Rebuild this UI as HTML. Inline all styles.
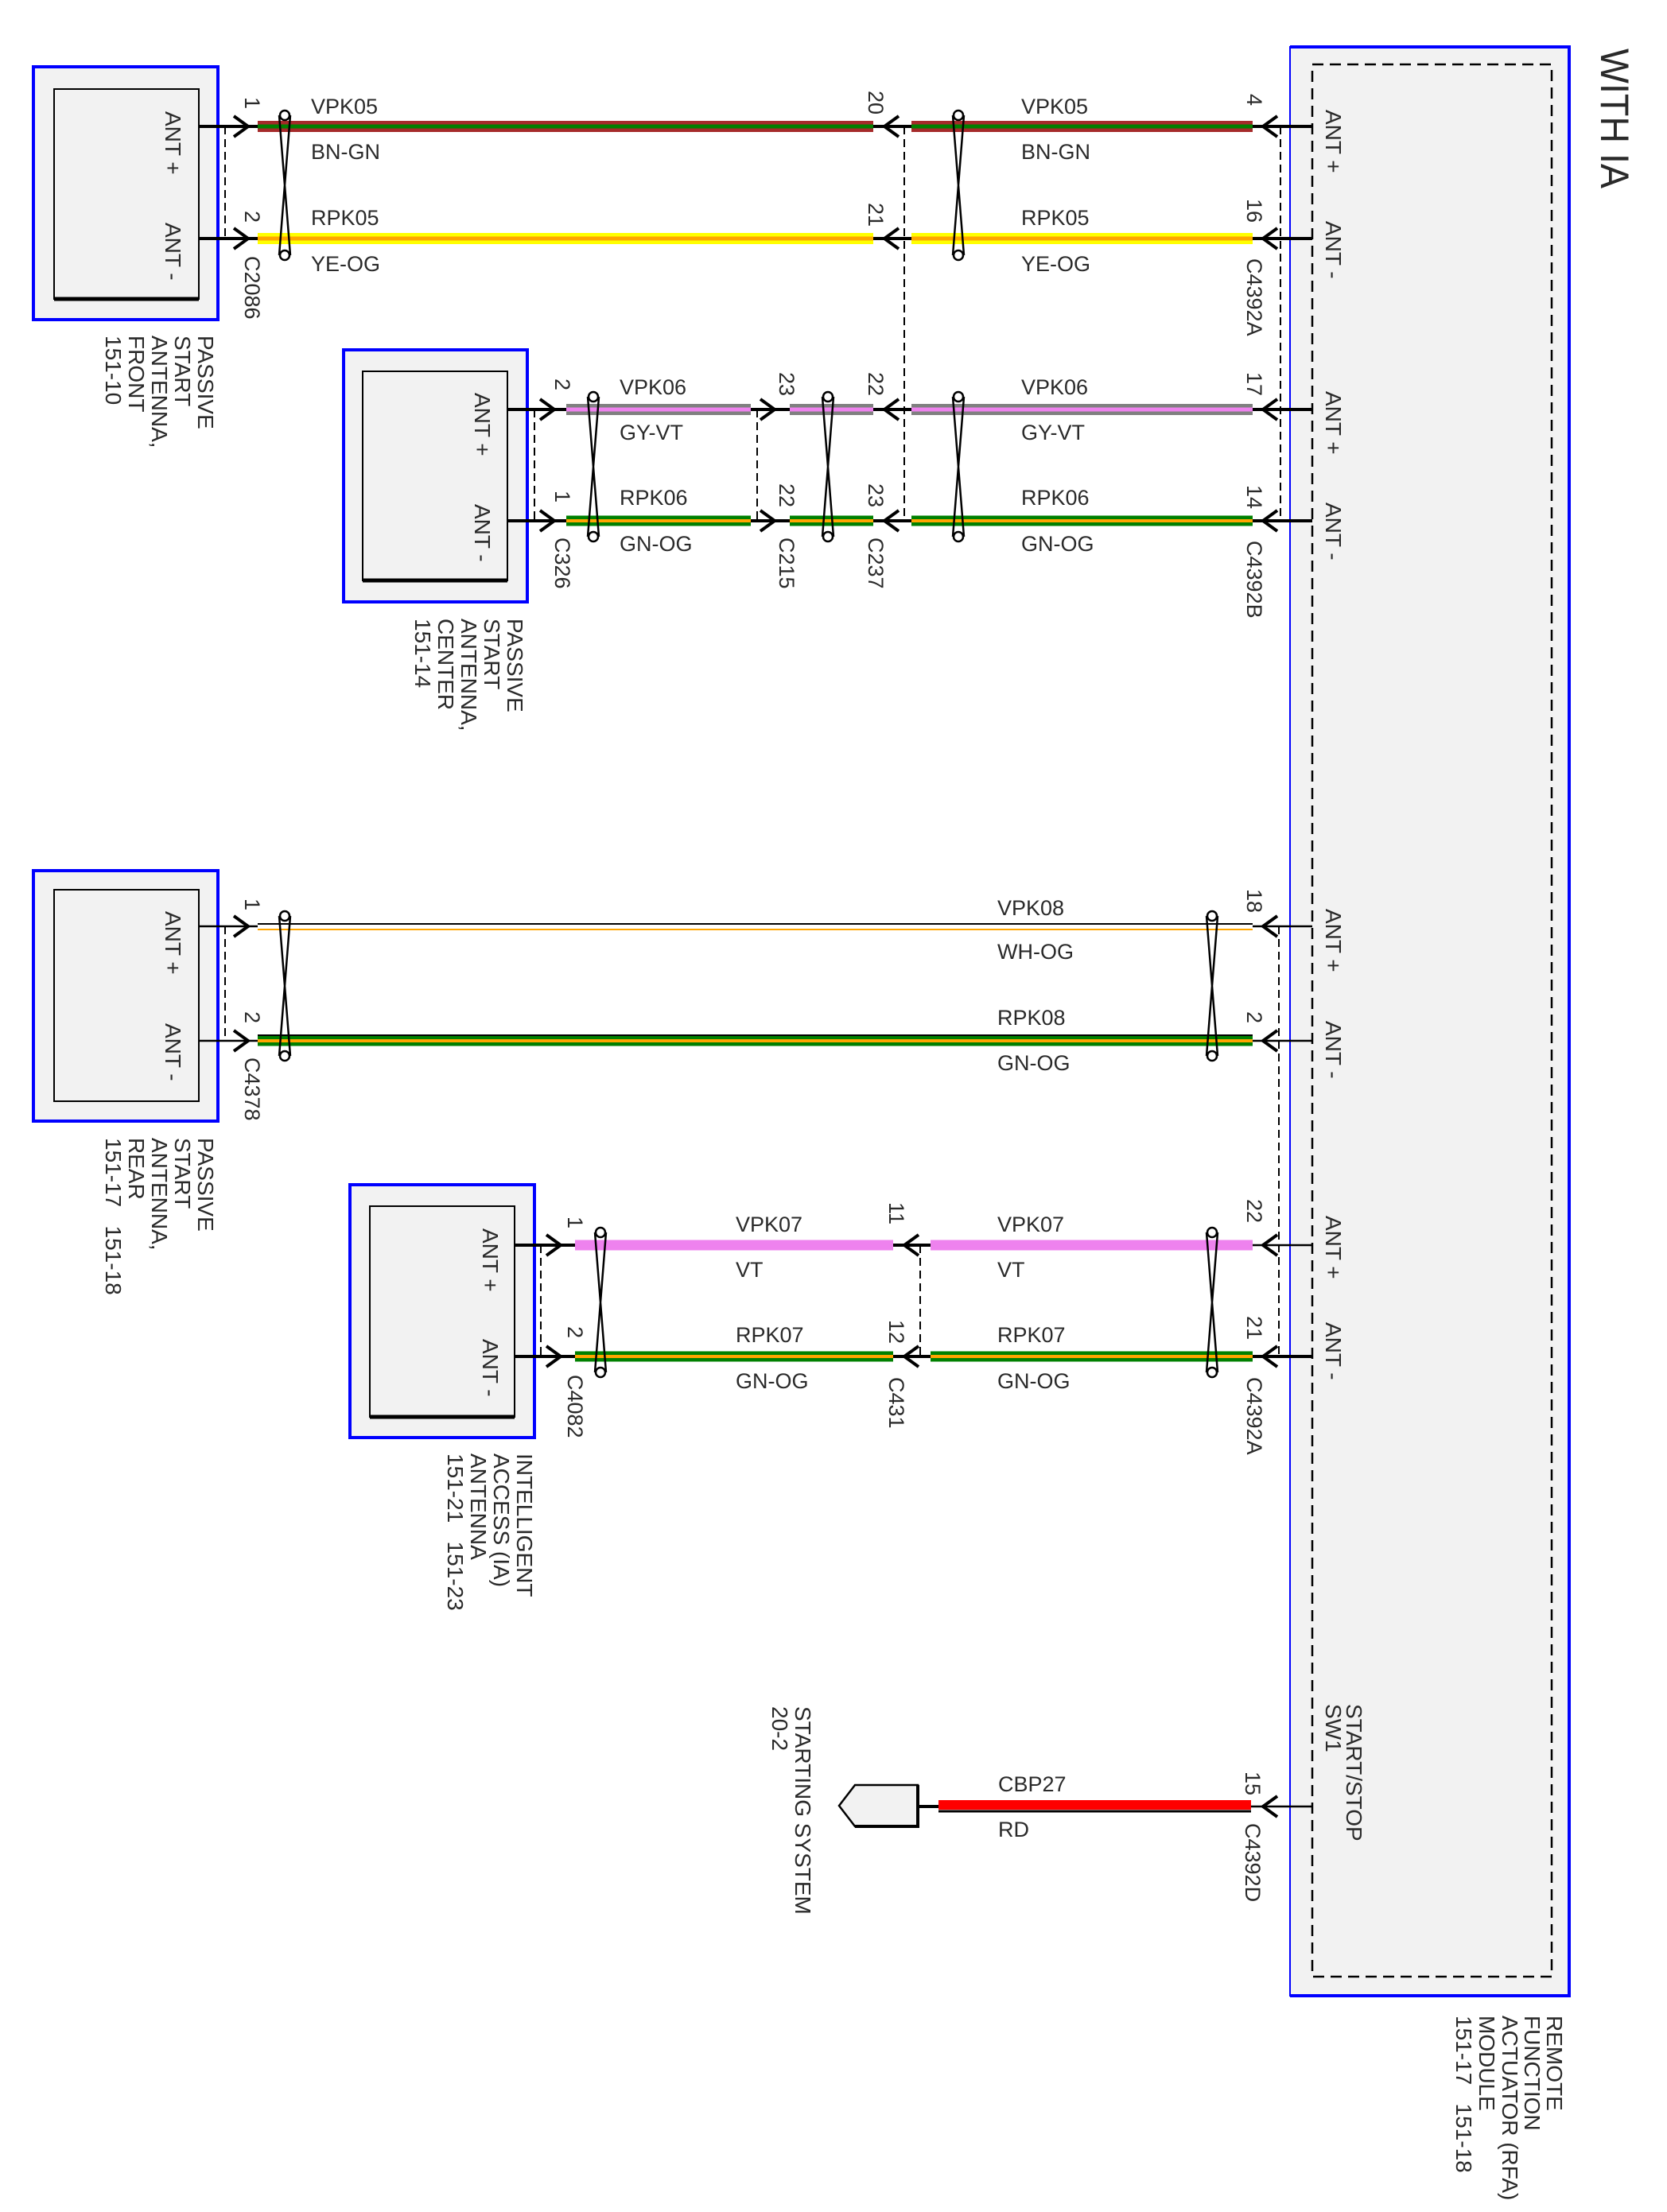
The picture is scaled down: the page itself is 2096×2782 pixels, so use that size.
<!DOCTYPE html>
<html><head><meta charset="utf-8"><style>
html,body{margin:0;padding:0;background:#fff}
svg{display:block}
text{font-family:"Liberation Sans",sans-serif;fill:#2a2a2a}
.w{font-size:27px}
.r{font-size:28px}
.p{font-size:27px}
</style></head><body>
<svg width="2096" height="2782" viewBox="0 0 2096 2782" xmlns="http://www.w3.org/2000/svg">
<defs>
<g id="tw"><path d="M-7,5 Q0,93 7,181 M7,5 Q0,93 -7,181" stroke="#000" stroke-width="2.5" fill="none"/><circle cx="0" cy="5" r="6" fill="#fff" stroke="#000" stroke-width="2.5"/><circle cx="0" cy="181" r="6" fill="#fff" stroke="#000" stroke-width="2.5"/></g>
<path id="ar" d="M-18,-13 L0,0 L-18,13" fill="none" stroke="#000" stroke-width="4"/>
<path id="al" d="M18,-13 L0,0 L18,13" fill="none" stroke="#000" stroke-width="4"/>
</defs>

<rect x="1622" y="59" width="351" height="2451" fill="#f2f2f2" stroke="#0000ff" stroke-width="2"/>
<path d="M1622,59 H1973 V2510 H1622" fill="none" stroke="#0000ff" stroke-width="4"/>
<rect x="1650" y="81" width="301" height="2405" fill="none" stroke="#000" stroke-width="2.5" stroke-dasharray="14,8"/>
<text transform="translate(2013,61) rotate(90)" style="font-size:50px" textLength="176" lengthAdjust="spacingAndGlyphs">WITH IA</text>

<g fill="#f2f2f2">
<rect x="42" y="84" width="232" height="318" stroke="#0000ff" stroke-width="4"/>
<rect x="68" y="112" width="182" height="264" stroke="#000" stroke-width="2"/>
<rect x="432" y="440" width="231" height="317" stroke="#0000ff" stroke-width="4"/>
<rect x="456" y="467" width="182" height="263" stroke="#000" stroke-width="2"/>
<rect x="42" y="1095" width="232" height="315" stroke="#0000ff" stroke-width="4"/>
<rect x="68" y="1119" width="182" height="266" stroke="#000" stroke-width="2"/>
<rect x="440" y="1490" width="232" height="318" stroke="#0000ff" stroke-width="4"/>
<rect x="465" y="1517" width="182" height="265" stroke="#000" stroke-width="2"/>
</g>
<g stroke="#000" stroke-width="5"><path d="M68,376 H250 M456,730 H638 M465,1782 H647"/></g>

<g class="r">
<text transform="translate(208,140) rotate(90)">ANT +</text>
<text transform="translate(208,280) rotate(90)">ANT -</text>
<text transform="translate(597,494) rotate(90)">ANT +</text>
<text transform="translate(597,634) rotate(90)">ANT -</text>
<text transform="translate(208,1146) rotate(90)">ANT +</text>
<text transform="translate(208,1287) rotate(90)">ANT -</text>
<text transform="translate(607,1545) rotate(90)">ANT +</text>
<text transform="translate(607,1684) rotate(90)">ANT -</text>
<text transform="translate(1667,138) rotate(90)">ANT +</text>
<text transform="translate(1667,278) rotate(90)">ANT -</text>
<text transform="translate(1667,492) rotate(90)">ANT +</text>
<text transform="translate(1667,632) rotate(90)">ANT -</text>
<text transform="translate(1667,1143) rotate(90)">ANT +</text>
<text transform="translate(1667,1284) rotate(90)">ANT -</text>
<text transform="translate(1667,1529) rotate(90)">ANT +</text>
<text transform="translate(1667,1663) rotate(90)">ANT -</text>
<text transform="translate(1693,2143) rotate(90)">START/STOP</text>
<text transform="translate(1667,2143) rotate(90)">SW1</text>
</g>

<g class="r">
<text transform="translate(249,422) rotate(90)">PASSIVE</text>
<text transform="translate(220,422) rotate(90)">START</text>
<text transform="translate(191,422) rotate(90)">ANTENNA,</text>
<text transform="translate(162,422) rotate(90)">FRONT</text>
<text transform="translate(133,422) rotate(90)">151-10</text>
<text transform="translate(638,778) rotate(90)">PASSIVE</text>
<text transform="translate(609,778) rotate(90)">START</text>
<text transform="translate(580,778) rotate(90)">ANTENNA,</text>
<text transform="translate(551,778) rotate(90)">CENTER</text>
<text transform="translate(522,778) rotate(90)">151-14</text>
<text transform="translate(249,1431) rotate(90)">PASSIVE</text>
<text transform="translate(220,1431) rotate(90)">START</text>
<text transform="translate(191,1431) rotate(90)">ANTENNA,</text>
<text transform="translate(162,1431) rotate(90)">REAR</text>
<text transform="translate(133,1431) rotate(90)">151-17&#160;&#160;&#160;151-18</text>
<text transform="translate(650,1828) rotate(90)">INTELLIGENT</text>
<text transform="translate(621,1828) rotate(90)">ACCESS (IA)</text>
<text transform="translate(592,1828) rotate(90)">ANTENNA</text>
<text transform="translate(563,1828) rotate(90)">151-21&#160;&#160;&#160;151-23</text>
<text transform="translate(1945,2535) rotate(90)">REMOTE</text>
<text transform="translate(1917,2535) rotate(90)">FUNCTION</text>
<text transform="translate(1889,2535) rotate(90)">ACTUATOR (RFA)</text>
<text transform="translate(1860,2535) rotate(90)">MODULE</text>
<text transform="translate(1831,2535) rotate(90)">151-17&#160;&#160;&#160;151-18</text>
<text transform="translate(1000,2146) rotate(90)">STARTING SYSTEM</text>
<text transform="translate(971,2146) rotate(90)">20-2</text>
</g>

<g stroke="#000" stroke-width="4" fill="none">
<path d="M250,159 H324 M250,300 H324 M638,515 H712 M638,655 H712 M944,515 H993 M944,655 H993 M1098,159 H1146 M1098,300 H1146 M1098,515 H1146 M1098,655 H1146 M647,1566 H723 M647,1706 H723 M1123,1566 H1170 M1123,1706 H1170 M1154,2272 H1180"/>
<path d="M1575,159 H1650 M1575,300 H1650 M1575,515 H1650 M1575,655 H1650 M1575,1706 H1650" />
</g>
<g stroke="#000" stroke-width="2.5" fill="none">
<path d="M250,1165 H324 M250,1309 H324 M1575,1165 H1650 M1575,1309 H1650 M1575,1566 H1650 M1573,2272 H1650"/>
</g>

<g stroke="#000" stroke-width="2" stroke-dasharray="10,6" fill="none">
<path d="M283,159 V300 M672,515 V655 M952,515 V655 M1137,159 V655 M1610,159 V655 M283,1165 V1309 M680,1566 V1706 M1157,1566 V1706 M1608,1165 V1706"/>
</g>

<g fill="none">
<path d="M324,159 H1098 M1146,159 H1575" stroke="#a52a2a" stroke-width="14"/>
<path d="M324,159 H1098 M1146,159 H1575" stroke="#008000" stroke-width="5"/>
<path d="M324,300 H1098 M1146,300 H1575" stroke="#ffff00" stroke-width="14"/>
<path d="M324,300 H1098 M1146,300 H1575" stroke="#ffa500" stroke-width="5"/>
<path d="M712,515 H944 M993,515 H1098 M1146,515 H1575" stroke="#808080" stroke-width="14"/>
<path d="M712,515 H944 M993,515 H1098 M1146,515 H1575" stroke="#ee82ee" stroke-width="5"/>
<path d="M712,655 H944 M993,655 H1098 M1146,655 H1575 M324,1309 H1575 M723,1706 H1123 M1170,1706 H1575" stroke="#008000" stroke-width="13"/>
<path d="M712,655 H944 M993,655 H1098 M1146,655 H1575 M324,1309 H1575 M723,1706 H1123 M1170,1706 H1575" stroke="#ffa500" stroke-width="4"/>
<path d="M324,1302 H1575" stroke="#000" stroke-width="2"/>
<path d="M324,1162 H1575" stroke="#000" stroke-width="2"/>
<path d="M324,1169 H1575" stroke="#ffa500" stroke-width="2"/>
<path d="M723,1566 H1123 M1170,1566 H1575" stroke="#ee82ee" stroke-width="13"/>
<path d="M1180,2270 H1573" stroke="#ff0000" stroke-width="12"/>
<path d="M1180,2278 H1573" stroke="#000" stroke-width="3"/>
</g>

<use href="#ar" x="312" y="159"/><use href="#ar" x="312" y="300"/>
<use href="#ar" x="312" y="1165"/><use href="#ar" x="312" y="1309"/>
<use href="#ar" x="697" y="515"/><use href="#ar" x="697" y="655"/>
<use href="#ar" x="974" y="515"/><use href="#ar" x="974" y="655"/>
<use href="#ar" x="705" y="1566"/><use href="#ar" x="705" y="1706"/>
<use href="#al" x="1112" y="159"/><use href="#al" x="1112" y="300"/>
<use href="#al" x="1112" y="515"/><use href="#al" x="1112" y="655"/>
<use href="#al" x="1137" y="1566"/><use href="#al" x="1137" y="1706"/>
<use href="#al" x="1588" y="159"/><use href="#al" x="1588" y="300"/>
<use href="#al" x="1588" y="515"/><use href="#al" x="1588" y="655"/>
<use href="#al" x="1588" y="1165"/><use href="#al" x="1588" y="1309"/>
<use href="#al" x="1588" y="1566"/><use href="#al" x="1588" y="1706"/>
<use href="#al" x="1588" y="2272"/>

<use href="#tw" x="358" y="140"/>
<use href="#tw" x="1205" y="140"/>
<use href="#tw" x="746" y="494"/>
<use href="#tw" x="1041" y="494"/>
<use href="#tw" x="1205" y="494"/>
<use href="#tw" x="358" y="1147"/>
<use href="#tw" x="1524" y="1147"/>
<use href="#tw" x="755" y="1545"/>
<use href="#tw" x="1524" y="1545"/>

<path d="M1154,2245 H1075 L1055,2271 L1075,2297 H1154 Z" fill="#f2f2f2" stroke="#000" stroke-width="2.5"/>
<path d="M1075,2297 H1154 V2245" fill="none" stroke="#000" stroke-width="4"/>

<g class="w">
<text x="391" y="143">VPK05</text><text x="391" y="200">BN-GN</text>
<text x="391" y="283">RPK05</text><text x="391" y="341">YE-OG</text>
<text x="1284" y="143">VPK05</text><text x="1284" y="200">BN-GN</text>
<text x="1284" y="283">RPK05</text><text x="1284" y="341">YE-OG</text>
<text x="779" y="496">VPK06</text><text x="779" y="553">GY-VT</text>
<text x="779" y="635">RPK06</text><text x="779" y="693">GN-OG</text>
<text x="1284" y="496">VPK06</text><text x="1284" y="553">GY-VT</text>
<text x="1284" y="635">RPK06</text><text x="1284" y="693">GN-OG</text>
<text x="1254" y="1151">VPK08</text><text x="1254" y="1206">WH-OG</text>
<text x="1254" y="1289">RPK08</text><text x="1254" y="1346">GN-OG</text>
<text x="925" y="1549">VPK07</text><text x="925" y="1606">VT</text>
<text x="925" y="1688">RPK07</text><text x="925" y="1746">GN-OG</text>
<text x="1254" y="1549">VPK07</text><text x="1254" y="1606">VT</text>
<text x="1254" y="1688">RPK07</text><text x="1254" y="1746">GN-OG</text>
<text x="1255" y="2253">CBP27</text><text x="1255" y="2310">RD</text>
</g>

<g class="p">
<text transform="translate(308,122) rotate(90)">1</text>
<text transform="translate(308,265) rotate(90)">2</text>
<text transform="translate(308,322) rotate(90)">C2086</text>
<text transform="translate(1092,114) rotate(90)">20</text>
<text transform="translate(1092,255) rotate(90)">21</text>
<text transform="translate(1568,118) rotate(90)">4</text>
<text transform="translate(1568,250) rotate(90)">16</text>
<text transform="translate(1568,325) rotate(90)">C4392A</text>
<text transform="translate(698,476) rotate(90)">2</text>
<text transform="translate(698,617) rotate(90)">1</text>
<text transform="translate(698,676) rotate(90)">C326</text>
<text transform="translate(980,468) rotate(90)">23</text>
<text transform="translate(980,608) rotate(90)">22</text>
<text transform="translate(980,676) rotate(90)">C215</text>
<text transform="translate(1092,468) rotate(90)">22</text>
<text transform="translate(1092,608) rotate(90)">23</text>
<text transform="translate(1092,676) rotate(90)">C237</text>
<text transform="translate(1568,468) rotate(90)">17</text>
<text transform="translate(1568,610) rotate(90)">14</text>
<text transform="translate(1568,680) rotate(90)">C4392B</text>
<text transform="translate(308,1130) rotate(90)">1</text>
<text transform="translate(308,1272) rotate(90)">2</text>
<text transform="translate(308,1330) rotate(90)">C4378</text>
<text transform="translate(1568,1118) rotate(90)">18</text>
<text transform="translate(1568,1272) rotate(90)">2</text>
<text transform="translate(714,1530) rotate(90)">1</text>
<text transform="translate(714,1668) rotate(90)">2</text>
<text transform="translate(714,1729) rotate(90)">C4082</text>
<text transform="translate(1118,1512) rotate(90)">11</text>
<text transform="translate(1118,1660) rotate(90)">12</text>
<text transform="translate(1118,1732) rotate(90)">C431</text>
<text transform="translate(1568,1508) rotate(90)">22</text>
<text transform="translate(1568,1655) rotate(90)">21</text>
<text transform="translate(1568,1732) rotate(90)">C4392A</text>
<text transform="translate(1566,2228) rotate(90)">15</text>
<text transform="translate(1566,2293) rotate(90)">C4392D</text>
</g>
</svg>
</body></html>
